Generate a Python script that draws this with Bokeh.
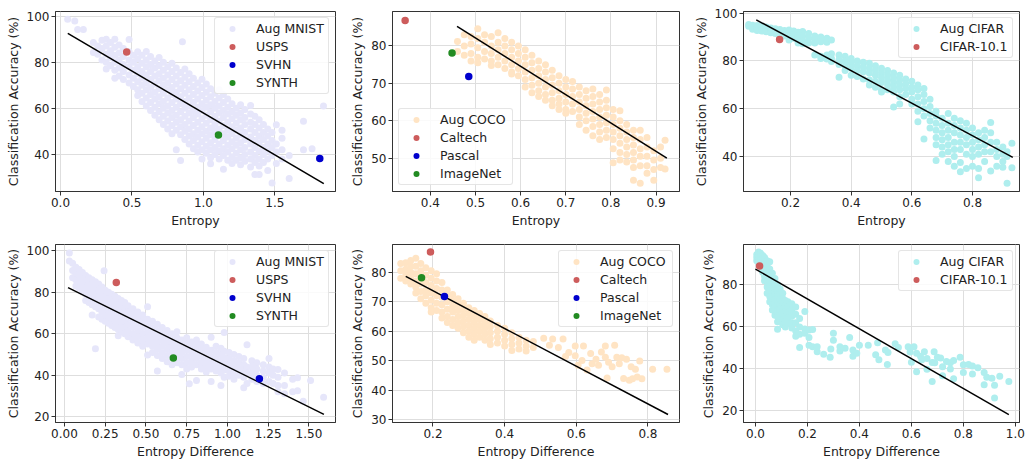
from bokeh.plotting import figure
from bokeh.layouts import gridplot
from bokeh.models import FixedTicker, Range1d
from bokeh.embed import file_html
from bokeh.resources import INLINE

FONT = "DejaVu Sans"

C_MNIST = "#E6E6FA"
C_COCO = "#FFE4C4"
C_CIFAR = "#AFEEEE"
C_RED = "#CD5C5C"
C_BLUE = "#0000CD"
C_GREEN = "#228B22"

# ---------------- data (x, [y values]) ----------------
MNIST_ENT = [
    (0.05, [98.6]), (0.10, [97.9]), (0.12, [94.2]), (0.16, [94.2]),
    (0.23, [88.5, 84.2]), (0.26, [87, 83.5]), (0.29, [89.5, 86, 81]),
    (0.32, [90, 87, 83.5, 80, 77]), (0.35, [88.5, 85, 82, 78.5]),
    (0.38, [90, 86.5, 83, 80, 76.5, 73]), (0.41, [87.5, 84, 81, 77.5, 74]),
    (0.44, [86, 82.5, 79, 76, 72.5]), (0.48, [89.9, 84.5, 81, 78, 74.5, 71]),
    (0.51, [83, 80, 76.5, 73, 69.5]), (0.54, [84.5, 81.5, 78, 75, 71.5, 68, 65.5]),
    (0.57, [83, 79.5, 76, 73, 70, 66.5, 63]), (0.60, [84.6, 81, 78, 74.5, 71, 68, 64.5, 61]),
    (0.63, [82.5, 79, 76, 72.5, 69, 66, 62.5, 59]), (0.66, [80.5, 77.5, 74, 70.5, 67, 64, 60.5, 57]),
    (0.69, [82, 78.5, 75, 72, 68.5, 65, 62, 58.5, 55]), (0.72, [80, 76.5, 73, 70, 66.5, 63, 60, 56.5, 53]),
    (0.75, [78, 74.5, 71, 68, 64.5, 61, 58, 54.5, 51]),
    (0.78, [79.5, 76, 72.5, 69, 66, 62.5, 59, 56, 52.5, 49]),
    (0.81, [77.5, 74, 70.5, 67, 64, 60.5, 57, 54, 50.5, 42]),
    (0.84, [75.5, 72, 68.5, 65, 62, 58.5, 55, 52, 48.5, 37.4]), (0.853, [88.9]),
    (0.87, [77, 73.5, 70, 66.5, 63, 60, 56.5, 53, 50, 46.5]),
    (0.90, [75, 71.5, 68, 64.5, 61, 58, 54.5, 51, 48, 44.5]),
    (0.93, [73, 69.5, 66, 62.5, 59, 56, 52.5, 49, 46, 42.5]),
    (0.96, [71, 67.5, 64, 60.5, 57.5, 54, 50.5, 47.5, 44, 41]),
    (0.99, [72.6, 69, 65.5, 62, 59, 55.5, 52, 49, 45.5, 42, 38]),
    (1.02, [70.5, 67, 63.5, 60.5, 57, 53.5, 50, 47, 43.5, 40.5]),
    (1.05, [68.5, 65, 61.5, 58.5, 55, 51.5, 48.5, 45, 42, 38.5, 35.9]),
    (1.08, [66.5, 63, 60, 56.5, 53, 50, 46.5, 43, 40]),
    (1.11, [68, 64.5, 61, 58, 54.5, 51, 44.5, 41.5, 38]),
    (1.14, [66, 62.5, 59, 56, 52.5, 49, 46, 42.5, 39.5, 33.5]),
    (1.17, [64, 60.5, 57.5, 54, 50.5, 47.5, 44, 41, 37.5]),
    (1.20, [69.4, 62, 58.5, 55.5, 52, 49, 45.5, 42.5, 39, 36]),
    (1.23, [60, 57, 53.5, 50.5, 47, 44, 40.5, 37.5]),
    (1.26, [61.5, 58, 55, 51.5, 48.5, 45, 42, 38.5, 35.5]),
    (1.29, [59.5, 56, 53, 49.5, 46.5, 43, 40, 37]),
    (1.33, [61.2, 57.5, 54, 51, 47.5, 44.5, 41, 38, 34.5]),
    (1.36, [56.5, 53, 49.5, 46, 43, 39.5, 36.5, 31.3]),
    (1.39, [55, 51.5, 48, 45, 41.5, 38, 35, 31.3]),
    (1.42, [53, 49.5, 46.5, 43, 40, 36.5]), (1.45, [51, 48, 44.5, 41.5, 38, 33]),
    (1.48, [49.5, 46, 43, 39.5, 27.6]), (1.51, [52.9, 44.5, 41, 36]),
    (1.55, [50.5, 47, 42, 38]), (1.60, [39.5, 29.5]), (1.70, [54.4, 42]),
    (1.76, [42.4]), (1.84, [61]),
]

COCO_ENT = [
    (0.46, [81.2, 78.5]), (0.475, [83, 80, 77.5]), (0.49, [82.5, 80.5, 78, 76]),
    (0.505, [84.6, 82, 79.5, 77, 75.5]), (0.52, [83, 81, 78.5, 76.5]),
    (0.535, [82.5, 80, 78, 76, 74.8]), (0.55, [83.5, 81, 79, 77, 75]),
    (0.565, [82, 80, 78, 76, 74]), (0.58, [81, 79, 77, 75, 73, 72.5]),
    (0.595, [80, 78, 76, 74, 72]), (0.61, [79, 77, 75, 73, 71, 69]),
    (0.625, [77.5, 75.5, 73.5, 71.5, 69.5, 67.5]), (0.64, [76, 74, 72, 70, 68, 66.5]),
    (0.655, [75, 73, 71, 69, 67, 65.5]), (0.67, [73.5, 71.5, 69.5, 67.5, 65.5, 64]),
    (0.685, [72, 70, 68, 66, 64.5, 63]), (0.70, [71, 69, 67, 65, 63, 62]),
    (0.715, [70.5, 68.5, 66.5, 64.5, 62.5]), (0.73, [69, 67, 65, 63, 61, 59]),
    (0.745, [68, 66, 64, 62, 60, 57.5]), (0.76, [68.5, 66.5, 64.5, 62.5, 60.5, 58.5, 56]),
    (0.775, [67, 65, 63, 61, 59, 57, 55]), (0.79, [68.2, 65.5, 63.5, 61.5, 59.5, 57.5, 55.5]),
    (0.805, [63, 61, 59, 57, 55, 52.5, 48.8]), (0.82, [62.7, 60, 58, 56, 54, 51.5, 49.5]),
    (0.835, [59, 57, 55, 53, 51, 49]), (0.85, [57.5, 55.5, 53.5, 51.5, 49.5, 47.5, 44.1]),
    (0.865, [57.5, 55, 52.5, 50.5, 48, 43.3]), (0.88, [55.5, 53, 50.5, 48, 46]),
    (0.895, [52, 49.5, 47, 44.1]), (0.91, [53, 50, 47.5]), (0.92, [54.8, 47.1]),
]

CIFAR_ENT = [
    (0.062, [95.3, 94.5]), (0.075, [95, 94, 93.3]), (0.09, [94.8, 93.8, 92.8]),
    (0.105, [94.5, 93.5, 92.5]), (0.12, [94.2, 93.2, 92.2]), (0.135, [93.8, 92.8, 91.8]),
    (0.15, [93.5, 92.5, 91.5]), (0.165, [93.2, 92, 91, 90.2]), (0.18, [92.8, 91.5, 90.5]),
    (0.195, [93, 91.5, 90, 88.8]), (0.21, [92.5, 91, 89.5]), (0.225, [92, 90.5, 88.5, 87.5]),
    (0.24, [92.3, 90.5, 88.5, 87.2]), (0.26, [91.5, 89.5, 87.5]), (0.28, [90.5, 89, 87.5, 82.5]),
    (0.30, [90, 89.5, 88, 82, 81]), (0.32, [89.5, 88.5, 87.8, 82.5, 80.8]),
    (0.335, [88.8, 83, 81, 79.8]), (0.36, [82.5, 80.5, 78.5, 73.2]), (0.38, [82, 80, 78, 76]),
    (0.40, [81, 79, 77, 74]), (0.42, [80, 78, 76, 73.5]), (0.44, [79.5, 77.5, 75.5, 72.5]),
    (0.46, [79, 77, 75, 72, 70]), (0.48, [78, 76, 74, 71.5, 69]), (0.50, [77, 75, 73, 71, 68, 67]),
    (0.52, [76, 74, 72, 70, 68]), (0.54, [75, 73, 71, 69, 67, 60.8]),
    (0.56, [74, 72, 70, 68, 65, 62]), (0.58, [72.5, 70.5, 68.5, 66]),
    (0.60, [71.5, 69, 67, 64, 62]), (0.62, [70, 68, 65, 62, 59, 54.6]),
    (0.64, [68.5, 66, 63, 60, 57, 47.4]), (0.66, [64, 61, 58, 55, 52]),
    (0.68, [59, 57, 54, 51, 48, 45, 38.4]), (0.70, [56, 53, 50, 47, 44, 41]),
    (0.72, [58, 54, 51, 48, 45, 42, 38]), (0.74, [56, 53, 50, 46, 43, 40, 36]),
    (0.76, [55, 52, 49, 46, 43, 37.5, 33.7]), (0.78, [54, 51, 48, 45, 41, 35]),
    (0.80, [52, 49, 46, 43, 40, 36]), (0.82, [50, 47, 44, 41, 35, 31.2]),
    (0.84, [51, 48, 45, 42, 38]), (0.86, [54.3, 50, 46, 42, 34]), (0.88, [46, 43, 40, 36]),
    (0.90, [44, 41, 38, 35.5]), (0.914, [28.9, 42, 40]), (0.93, [45.6, 35.3]),
]

MNIST_DIFF = [
    (0.03, [98.9, 95]), (0.05, [94, 90.5, 87]), (0.07, [92, 89, 86, 83]),
    (0.09, [91, 88, 85, 82]), (0.11, [89.5, 86.5, 83.5, 80.5]), (0.13, [88, 85, 82, 79, 76]),
    (0.15, [87, 84, 81, 78, 75]), (0.17, [86, 83, 80, 77, 74, 69]),
    (0.19, [85, 82, 79, 76, 73, 52.8]), (0.21, [84, 81, 78, 75, 72, 68]),
    (0.23, [82.5, 79.5, 76.5, 73.5, 70.5, 67]), (0.243, [90.3]),
    (0.25, [81, 78, 75, 72, 69, 66]), (0.27, [80, 77, 74, 71, 68, 65]),
    (0.29, [79, 76, 73, 70, 67, 64]), (0.31, [78, 75, 72, 69, 66, 63]),
    (0.33, [77, 74, 71, 68, 65, 62, 59]), (0.35, [76, 73, 70, 67, 64, 61]),
    (0.37, [75, 72, 69, 66, 63, 60]), (0.39, [73.5, 70.5, 67.5, 64.5, 61.5, 58.5]),
    (0.42, [72, 69, 66, 63, 60, 57]), (0.45, [70.5, 67.5, 64.5, 61.5, 58.5, 55.5]),
    (0.48, [69, 66, 63, 60, 57, 54]), (0.51, [73, 67, 64, 61, 58, 55, 49.7]),
    (0.54, [66, 63, 60, 57, 54, 51]), (0.57, [64.5, 61.5, 58.5, 55.5, 52.5, 49.5, 42]),
    (0.60, [63, 60, 57, 54, 51, 48]), (0.63, [61.5, 58.5, 55.5, 52.5, 49.5, 46.5]),
    (0.66, [60, 57, 54, 51, 45]), (0.69, [61, 58, 55, 52, 49, 46]),
    (0.72, [57, 54, 51, 48, 45, 40.3]), (0.75, [58, 55, 52, 49, 46, 43]), (0.766, [35.9]),
    (0.78, [56, 53, 50, 47, 44]), (0.81, [57, 54, 51, 48, 45, 37.5]),
    (0.84, [55, 52, 49, 46, 43]), (0.87, [53.5, 50.5, 47.5, 44.5, 41.5]),
    (0.90, [58.3, 52, 49, 46, 43, 37]), (0.93, [54, 51, 48, 45, 42]),
    (0.96, [53, 50, 47, 44, 41, 35]), (0.98, [60.6, 51.5, 48.5, 45.5, 42.5, 39]),
    (1.01, [51, 48, 45, 42, 39.5]), (1.04, [50, 47, 44, 41, 38]), (1.07, [49, 46, 43, 40]),
    (1.10, [48, 45, 42, 39, 34]), (1.12, [54.7, 44, 41, 36]), (1.15, [47, 44, 41, 38]),
    (1.18, [46, 43, 40, 37]), (1.22, [45, 42, 39, 36]), (1.255, [48.1, 44, 41, 37]),
    (1.28, [43, 40, 36]), (1.31, [42.7, 39, 35, 32]), (1.35, [41, 35, 31]),
    (1.40, [38, 32]), (1.43, [38.8, 32.5]), (1.465, [27.5]), (1.51, [37.5]), (1.59, [29.4]),
]

COCO_DIFF = [
    (0.11, [83, 80.5, 78]), (0.124, [83.2, 81, 79, 77]), (0.138, [84, 82, 80, 78, 76]),
    (0.152, [84.7, 82, 79.5, 77, 75, 73]), (0.166, [83, 80.5, 78, 76, 73.5, 71]),
    (0.18, [81.5, 79, 76.5, 74, 72, 69.5]), (0.195, [80.5, 78, 75.5, 73, 70.5, 68, 66.5]),
    (0.21, [79.5, 77, 74.5, 72, 69.5, 67]), (0.225, [76.5, 74, 71.5, 69, 66.5, 64.5]),
    (0.24, [74, 72, 70, 67.5, 65, 63]), (0.255, [72.5, 70.5, 68.5, 66.5, 64, 62]),
    (0.27, [71, 69, 67, 65, 63, 61]), (0.285, [69.5, 67.5, 65.5, 63.5, 61.5, 59.5]),
    (0.30, [68, 66, 64, 62, 60, 58]), (0.315, [67, 65, 63, 61, 59, 57]),
    (0.33, [66, 64, 62, 60, 58]), (0.345, [65, 63, 61, 59, 57]),
    (0.36, [63.5, 61.5, 59.5, 57.5, 55.5]), (0.38, [62, 60, 58, 56]),
    (0.40, [61, 59, 57, 55]), (0.42, [59.5, 57.5, 55.5, 53.5]), (0.44, [58, 56, 54]),
    (0.46, [57, 55, 53.3]), (0.48, [56.5, 54.5]), (0.509, [57.6]), (0.525, [55.3]),
    (0.534, [57.4]), (0.55, [54.5]), (0.563, [57.4]), (0.57, [51.5]), (0.579, [52.8]),
    (0.597, [55, 51.7]), (0.605, [48.5]), (0.616, [50.1]), (0.62, [55]), (0.63, [46.9]),
    (0.64, [52.5]), (0.644, [49]), (0.655, [50.5]), (0.662, [48.5]), (0.67, [53]),
    (0.681, [55, 51.2]), (0.686, [44.2]), (0.69, [49.5]), (0.70, [48]), (0.707, [55.3]),
    (0.713, [51.2]), (0.72, [49]), (0.727, [51]), (0.732, [44]), (0.74, [50.5]),
    (0.748, [43.4]), (0.753, [48]), (0.757, [43.9]), (0.765, [47.1]), (0.77, [44.5]),
    (0.777, [49.9]), (0.783, [43.9]), (0.813, [47.1]), (0.853, [47.1]),
]

CIFAR_DIFF = [
    (0.005, [94.5, 93, 91.5]), (0.012, [95.6, 94, 92.5, 91]), (0.02, [95, 93.5, 92, 90, 88]),
    (0.028, [94, 92, 90, 88, 86]), (0.035, [93, 91, 89, 86.5, 84, 82]),
    (0.045, [91.5, 89, 86.5, 84, 81.5, 79, 76]),
    (0.055, [91, 87.5, 85, 82, 79.5, 77, 74.5, 72]),
    (0.065, [85.5, 83, 80.5, 78, 75.5, 73, 70.5, 68]),
    (0.075, [83, 80.5, 78, 75.5, 73, 70.5, 68, 65.5]),
    (0.085, [80, 77.5, 75, 72.5, 70, 67.5, 65, 62.5, 58.9]),
    (0.095, [78, 75.5, 73, 70.5, 68, 65.5, 63]), (0.105, [76, 73.5, 71, 68.5, 66, 63.5, 61]),
    (0.115, [72.5, 70, 67.5, 65, 62.5, 60]), (0.125, [72, 69.5, 67, 64.5, 62]),
    (0.14, [71, 68, 65, 62, 59.5]), (0.155, [69.5, 66, 62, 58, 55.5]),
    (0.17, [64, 60, 56.5, 50.2]), (0.19, [67.3, 59, 57]), (0.206, [58.5, 55, 51.3]),
    (0.22, [58.8, 50.5]), (0.2375, [48.2, 50.5]), (0.2625, [47]), (0.2875, [45.6]),
    (0.29, [49.5]), (0.30, [57, 53.6]), (0.325, [50.5, 48.5]), (0.345, [49.8]),
    (0.3625, [55]), (0.375, [46, 49]), (0.39, [47.5]), (0.40, [51.3]), (0.434, [51.3]),
    (0.4625, [46.7]), (0.47, [52.4]), (0.475, [44.4]), (0.50, [49]), (0.5075, [42.1]),
    (0.51, [47.8]), (0.5375, [52]), (0.55, [50.2]), (0.5875, [50.5]), (0.595, [48]),
    (0.60, [43.2]), (0.61, [50.5]), (0.62, [47.5, 38.6]), (0.635, [46]), (0.64, [44.4]),
    (0.65, [48.2]), (0.66, [39.8, 45]), (0.68, [34, 43]), (0.6875, [48.2]), (0.69, [42.9]),
    (0.70, [45.5]), (0.7125, [45.2]), (0.72, [36.8, 41]), (0.735, [43.5]),
    (0.75, [42.9, 40]), (0.7625, [35.3, 44]), (0.7875, [45.6]), (0.80, [38.3, 42]),
    (0.82, [42.1]), (0.835, [41.4, 37.6]), (0.856, [40.6]), (0.88, [38.3, 32.5]),
    (0.89, [36]), (0.91, [35.6]), (0.92, [26.1, 32.2]), (0.94, [36.5]), (0.975, [34]),
]

# reference datasets
MNIST_REF_LABELS = ["USPS", "SVHN", "SYNTH"]
MNIST_REF_COLORS = [C_RED, C_BLUE, C_GREEN]
MNIST_ENT_REF_X = [0.463, 1.814, 1.105]
MNIST_ENT_REF_Y = [84.4, 38.2, 48.4]
MNIST_DIFF_REF_X = [0.318, 1.196, 0.668]
MNIST_DIFF_REF_Y = [84.7, 38.3, 48.3]

COCO_REF_LABELS = ["Caltech", "Pascal", "ImageNet"]
COCO_REF_COLORS = [C_RED, C_BLUE, C_GREEN]
COCO_ENT_REF_X = [0.344, 0.485, 0.448]
COCO_ENT_REF_Y = [86.8, 71.8, 78.1]
COCO_DIFF_REF_X = [0.193, 0.232, 0.168]
COCO_DIFF_REF_Y = [86.9, 71.8, 78.1]

CIFAR_REF_LABELS = ["CIFAR-10.1"]
CIFAR_REF_COLORS = [C_RED]
CIFAR_ENT_REF_X = [0.164]
CIFAR_ENT_REF_Y = [89.0]
CIFAR_DIFF_REF_X = [0.016]
CIFAR_DIFF_REF_Y = [89.0]

# regression lines (end points)
FIT_MNIST_ENT = ([0.051, 1.842], [92.5, 27.3])
FIT_COCO_ENT = ([0.459, 0.924], [85.2, 50.0])
FIT_CIFAR_ENT = ([0.087, 0.933], [97.2, 39.7])
FIT_MNIST_DIFF = ([0.022, 1.592], [82.2, 21.1])
FIT_COCO_DIFF = ([0.124, 0.856], [78.6, 31.8])
FIT_CIFAR_DIFF = ([0.0, 0.975], [87.5, 18.2])

# ticks
XT_MNIST_ENT = [0.0, 0.5, 1.0, 1.5]
XL_MNIST_ENT = ["0.0", "0.5", "1.0", "1.5"]
XT_COCO_ENT = [0.4, 0.5, 0.6, 0.7, 0.8, 0.9]
XL_COCO_ENT = ["0.4", "0.5", "0.6", "0.7", "0.8", "0.9"]
XT_CIFAR_ENT = [0.2, 0.4, 0.6, 0.8]
XL_CIFAR_ENT = ["0.2", "0.4", "0.6", "0.8"]
XT_MNIST_DIFF = [0.0, 0.25, 0.5, 0.75, 1.0, 1.25, 1.5]
XL_MNIST_DIFF = ["0.00", "0.25", "0.50", "0.75", "1.00", "1.25", "1.50"]
XT_COCO_DIFF = [0.2, 0.4, 0.6, 0.8]
XL_COCO_DIFF = ["0.2", "0.4", "0.6", "0.8"]
XT_CIFAR_DIFF = [0.0, 0.2, 0.4, 0.6, 0.8, 1.0]
XL_CIFAR_DIFF = ["0.0", "0.2", "0.4", "0.6", "0.8", "1.0"]
YT_MNIST_ENT = [40, 60, 80, 100]
YT_COCO_ENT = [50, 60, 70, 80]
YT_CIFAR_ENT = [40, 60, 80, 100]
YT_MNIST_DIFF = [20, 40, 60, 80, 100]
YT_COCO_DIFF = [30, 40, 50, 60, 70, 80]
YT_CIFAR_DIFF = [20, 40, 60, 80]


def flatten(cols):
    xs, ys = [], []
    for x, yl in cols:
        for y in yl:
            xs.append(x)
            ys.append(y)
    return xs, ys


def panel(cols, aug_label, aug_color, ref_labels, ref_colors, ref_x, ref_y, fit,
          xr, yr, xt, xl, yt, xlabel, loc, w, h, mbl, mbr, mbt, mbb):
    p = figure(width=w, height=h, output_backend="svg", toolbar_location=None,
               x_range=Range1d(*xr), y_range=Range1d(*yr),
               min_border_left=mbl, min_border_right=mbr,
               min_border_top=mbt, min_border_bottom=mbb)
    p.background_fill_color = "white"
    p.border_fill_color = "white"
    p.outline_line_color = "#333333"
    p.outline_line_width = 1
    p.grid.grid_line_color = "#dedede"
    p.grid.grid_line_width = 1
    p.xaxis.ticker = FixedTicker(ticks=xt)
    p.xaxis.major_label_overrides = {t: s for t, s in zip(xt, xl)}
    p.yaxis.ticker = FixedTicker(ticks=yt)
    p.xaxis.axis_label = xlabel
    p.yaxis.axis_label = "Classification Accuracy (%)"
    for ax in (p.xaxis, p.yaxis):
        ax.axis_label_text_font = FONT
        ax.axis_label_text_font_size = "12.5px"
        ax.axis_label_text_font_style = "normal"
        ax.axis_label_text_color = "#222222"
        ax.major_label_text_font = FONT
        ax.major_label_text_font_size = "12px"
        ax.major_label_text_color = "#222222"
        ax.axis_line_color = "#333333"
        ax.major_tick_line_color = "#333333"
        ax.major_tick_out = 4
        ax.major_tick_in = 0
        ax.minor_tick_line_color = None
        ax.major_label_standoff = 2
        ax.axis_label_standoff = 3

    ax_, ay_ = flatten(cols)
    p.scatter(ax_, ay_, size=7, color=aug_color, line_color=None, legend_label=aug_label)
    p.line(fit[0], fit[1], line_color="black", line_width=1.5)
    for lab, col, x, y in zip(ref_labels, ref_colors, ref_x, ref_y):
        p.scatter([x], [y], size=7.5, color=col, line_color=None, legend_label=lab)

    leg = p.legend[0]
    leg.location = loc
    leg.label_text_font = FONT
    leg.label_text_font_size = "12.5px"
    leg.label_text_color = "#222222"
    leg.border_line_color = "#cccccc"
    leg.border_line_width = 1
    leg.background_fill_color = "white"
    leg.background_fill_alpha = 0.85
    leg.padding = 3
    leg.spacing = 3
    leg.margin = 6
    leg.glyph_width = 28
    leg.glyph_height = 15
    leg.label_height = 15
    leg.label_standoff = 10
    leg.label_width = 69
    if "border_radius" in leg.properties():
        leg.border_radius = 3
    return p


# figure sizes: columns 345 / 340 / 340 px wide, rows 230 / 231 px tall
p1 = panel(MNIST_ENT, "Aug MNIST", C_MNIST, MNIST_REF_LABELS, MNIST_REF_COLORS,
           MNIST_ENT_REF_X, MNIST_ENT_REF_Y, FIT_MNIST_ENT, (-0.035, 1.924), (23.9, 102.0),
           XT_MNIST_ENT, XL_MNIST_ENT, YT_MNIST_ENT, "Entropy", "top_right",
           345, 230, 55, 10, 11, 36)
p2 = panel(COCO_ENT, "Aug COCO", C_COCO, COCO_REF_LABELS, COCO_REF_COLORS,
           COCO_ENT_REF_X, COCO_ENT_REF_Y, FIT_COCO_ENT, (0.316, 0.952), (41.1, 89.2),
           XT_COCO_ENT, XL_COCO_ENT, YT_COCO_ENT, "Entropy", "bottom_left",
           340, 230, 47, 6, 11, 36)
p3 = panel(CIFAR_ENT, "Aug CIFAR", C_CIFAR, CIFAR_REF_LABELS, CIFAR_REF_COLORS,
           CIFAR_ENT_REF_X, CIFAR_ENT_REF_Y, FIT_CIFAR_ENT, (0.045, 0.955), (25.4, 100.7),
           XT_CIFAR_ENT, XL_CIFAR_ENT, YT_CIFAR_ENT, "Entropy", "top_right",
           340, 230, 58, 6, 11, 36)
p4 = panel(MNIST_DIFF, "Aug MNIST", C_MNIST, MNIST_REF_LABELS, MNIST_REF_COLORS,
           MNIST_DIFF_REF_X, MNIST_DIFF_REF_Y, FIT_MNIST_DIFF, (-0.055, 1.663), (17.2, 103.0),
           XT_MNIST_DIFF, XL_MNIST_DIFF, YT_MNIST_DIFF, "Entropy Difference", "top_right",
           345, 231, 55, 10, 14, 35)
p5 = panel(COCO_DIFF, "Aug COCO", C_COCO, COCO_REF_LABELS, COCO_REF_COLORS,
           COCO_DIFF_REF_X, COCO_DIFF_REF_Y, FIT_COCO_DIFF, (0.087, 0.888), (29.1, 89.4),
           XT_COCO_DIFF, XL_COCO_DIFF, YT_COCO_DIFF, "Entropy Difference", "top_right",
           340, 231, 47, 6, 14, 35)
p6 = panel(CIFAR_DIFF, "Aug CIFAR", C_CIFAR, CIFAR_REF_LABELS, CIFAR_REF_COLORS,
           CIFAR_DIFF_REF_X, CIFAR_DIFF_REF_Y, FIT_CIFAR_DIFF, (-0.046, 1.016), (14.5, 99.2),
           XT_CIFAR_DIFF, XL_CIFAR_DIFF, YT_CIFAR_DIFF, "Entropy Difference", "top_right",
           340, 231, 51, 6, 14, 35)

grid = gridplot([[p1, p2, p3], [p4, p5, p6]], toolbar_location=None)

open("out.html", "w").write(file_html(grid, INLINE))
